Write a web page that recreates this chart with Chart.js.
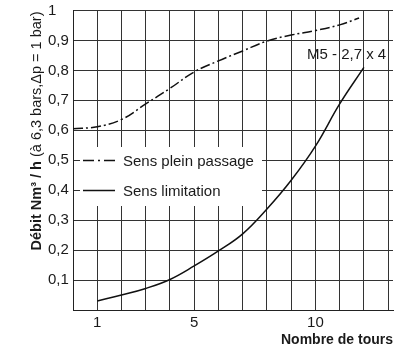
<!DOCTYPE html>
<html>
<head>
<meta charset="utf-8">
<script src="https://cdn.jsdelivr.net/npm/chart.js@4.4.1/dist/chart.umd.min.js"></script>
<style>
body { margin: 0; background: #fff; }
</style>
</head>
<body>
<canvas id="chart" width="400" height="350"></canvas>
<script>
// Nombre de tours / débit
const pleinTurns = [0, 1, 2, 3, 4, 5, 6, 7, 8, 9, 10, 11, 11.8];
const pleinFlow = [0.605, 0.612, 0.636, 0.688, 0.740, 0.795, 0.832, 0.865, 0.898, 0.918, 0.933, 0.952, 0.975];
const limitTurns = [1, 2, 3, 4, 5, 6, 7, 8, 9, 10, 11, 12];
const limitFlow = [0.030, 0.050, 0.072, 0.102, 0.147, 0.197, 0.254, 0.337, 0.433, 0.547, 0.688, 0.810];
const seriesNames = ['Sens plein passage', 'Sens limitation'];
const xLabels = [1, 5, 10];
const legendRows = [0.5, 0.4];
const modelLabel = 'M5 - 2,7 x 4';

const FONT = '"Liberation Sans", Arial, sans-serif';
const GRID = '#333';
const TEXT = '#1a1a1a';
const dashDot = [10, 3, 2, 3];

const toPoints = (xs, ys) => xs.map((x, i) => ({x: x, y: ys[i]}));

const legendBox = {
  id: 'legendBox',
  beforeDatasetsDraw(chart) {
    const {ctx, scales: {x, y}} = chart;
    ctx.save();
    ctx.fillStyle = '#fff';
    ctx.fillRect(80, 147, 182, 59);
    ctx.font = '15px ' + FONT;
    ctx.fillStyle = TEXT;
    ctx.textBaseline = 'middle';
    chart.data.datasets.forEach((ds, i) => {
      const py = Math.round(y.getPixelForValue(legendRows[i])) + 0.5;
      ctx.strokeStyle = '#111';
      ctx.lineWidth = 1.5;
      ctx.setLineDash(ds.borderDash.length ? [11, 4, 2, 4] : []);
      ctx.beginPath();
      ctx.moveTo(83, py);
      ctx.lineTo(115, py);
      ctx.stroke();
      ctx.fillText(ds.label, 123, py + 1);
    });
    ctx.restore();
  },
  afterDatasetsDraw(chart) {
    const {ctx, scales: {x, y}} = chart;
    ctx.save();
    ctx.font = '15px ' + FONT;
    ctx.fillStyle = TEXT;
    ctx.textAlign = 'right';
    ctx.textBaseline = 'middle';
    ctx.fillText(modelLabel, x.getPixelForValue(12.92), y.getPixelForValue(0.851));
    ctx.restore();
  },
  afterDraw(chart) {
    const ctx = chart.ctx;
    const bold = 'Débit Nm³ / h ';
    const normal = '(à 6,3 bars,Δp = 1 bar)';
    ctx.save();
    ctx.translate(37, 131);
    ctx.rotate(-Math.PI / 2);
    ctx.fillStyle = TEXT;
    ctx.textBaseline = 'middle';
    ctx.font = 'bold 14.5px ' + FONT;
    const wb = ctx.measureText(bold).width;
    ctx.font = '14.5px ' + FONT;
    const wn = ctx.measureText(normal).width;
    let sx = -(wb + wn) / 2;
    ctx.font = 'bold 14.5px ' + FONT;
    ctx.fillText(bold, sx, 0);
    ctx.font = '14.5px ' + FONT;
    ctx.fillText(normal, sx + wb, 0);
    ctx.restore();
  }
};

new Chart(document.getElementById('chart'), {
  type: 'scatter',
  data: {
    datasets: [
      {
        label: seriesNames[0],
        data: toPoints(pleinTurns, pleinFlow),
        showLine: true,
        borderColor: '#111',
        borderWidth: 1.5,
        borderDash: dashDot,
        pointRadius: 0,
        tension: 0.4
      },
      {
        label: seriesNames[1],
        data: toPoints(limitTurns, limitFlow),
        showLine: true,
        borderColor: '#111',
        borderWidth: 1.5,
        borderDash: [],
        pointRadius: 0,
        tension: 0.4
      }
    ]
  },
  options: {
    responsive: false,
    animation: false,
    layout: { padding: { left: 48, right: 7, top: 8, bottom: 0 } },
    plugins: {
      legend: { display: false },
      tooltip: { enabled: false }
    },
    scales: {
      x: {
        type: 'linear',
        min: 0,
        max: 13.2,
        afterFit: (s) => { s.height = 40; },
        grid: { color: GRID, lineWidth: 1, drawTicks: false },
        border: { color: '#222', width: 1 },
        ticks: {
          stepSize: 1,
          includeBounds: false,
          padding: 5,
          color: TEXT,
          font: { family: FONT, size: 15, lineHeight: 1.0 },
          callback: (v) => xLabels.includes(v) ? String(v) : ''
        },
        title: {
          display: true,
          text: 'Nombre de tours',
          align: 'end',
          color: TEXT,
          padding: { top: 0, bottom: 2 },
          font: { family: FONT, size: 14, weight: 'bold', lineHeight: 1.1 }
        }
      },
      y: {
        min: 0,
        max: 1,
        afterFit: (s) => { s.width = 25; },
        grid: { color: GRID, lineWidth: 1, drawTicks: false },
        border: { color: '#222', width: 1 },
        ticks: {
          stepSize: 0.1,
          crossAlign: 'far',
          color: TEXT,
          font: { family: FONT, size: 15, lineHeight: 1.0 },
          callback: (v) => {
            const r = Math.round(v * 10) / 10;
            if (r === 0) return '';
            if (r === 1) return '1';
            return r.toFixed(1).replace('.', ',');
          }
        }
      }
    }
  },
  plugins: [legendBox]
});
</script>
</body>
</html>
